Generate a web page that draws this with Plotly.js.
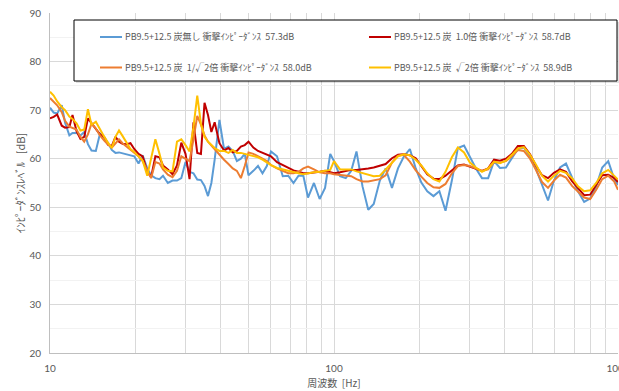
<!DOCTYPE html>
<html>
<head>
<meta charset="utf-8">
<script src="https://cdn.plot.ly/plotly-3.0.1.min.js"></script>
<style>
  html, body { margin: 0; padding: 0; background: #ffffff; }
  #chart { width: 619px; height: 391px; }
</style>
</head>
<body>
<div id="chart"></div>
<script>
// Frequency points [Hz]
const freqHz = [
  10, 10.3, 10.6, 11, 11.3, 11.7, 12, 12.4, 12.8, 13.2, 13.6, 14, 14.5, 15, 15.5, 16, 16.5, 17, 17.5, 18, 18.6, 19.2, 19.8,
  20.5, 21.2, 22, 22.7, 23.5, 24.3, 25, 26, 27, 28, 29, 30, 31, 32, 33, 34, 35, 36, 37, 38,
  39.5, 41, 42.5, 44, 45.5, 47, 48.5, 50,
  52, 54, 56, 58, 60, 63, 66, 69, 72, 75, 78, 81, 85, 89, 93, 97, 100,
  105, 110, 115, 120, 126, 132, 138, 145, 152, 160, 168, 176, 185, 194, 203, 213, 224, 235, 247, 260,
  273, 287, 301, 316, 332, 349, 366, 384, 403, 423, 444, 466, 490, 515, 540, 567, 595, 625, 656, 689,
  723, 760, 798, 838, 880, 924, 970, 1000
];

// Impedance level [dB] — PB9.5+12.5, no carbon
const levelNoCarbon = [
  70.5, 69.5, 69.3, 71, 67.4, 64.8, 65.3, 65.3, 64.8, 65.5, 63, 61.7, 61.6, 65.2, 64.5, 63.3, 61.8, 61.2, 61.3, 61.1, 60.9, 60.8, 60.5,
  59, 60.7, 58, 56.6, 56, 55.8, 56.5, 55, 55.5, 55.5, 56, 59.3, 57.3, 57, 55.7, 55.6, 54.4, 52.3, 55, 59.8,
  68, 62, 62.5, 61.6, 59.5, 60, 61, 56.6,
  57.5, 58.5, 57, 58.5, 61.5, 60.5, 56.4, 56.5, 55, 56.5, 56.5, 52, 55, 51.7, 54, 61, 59.5,
  56.4, 56, 57.5, 61.5, 54.3, 49.5, 50.7, 55.5, 58, 54, 58, 60.4, 62, 58, 55.1, 53.3, 52.3, 53.3, 49.3, 55.5,
  62.2, 62.7, 60.2, 58, 56, 56, 59.5, 58.1, 58.2, 60, 62, 62.3, 60.5, 57.8, 54.6, 51.4, 55.5, 58.2, 59, 56,
  53.3, 51.1, 51.8, 54.3, 58.2, 59.5, 55.8, 54.6
];

// Impedance level [dB] — carbon x1.0
const levelCarbon10 = [
  68.3, 68.6, 69.1, 66.8, 66.4, 66.5, 69, 65.7, 64.1, 64.5, 68.3, 67.3, 66.3, 65, 64.5, 62.9, 62.6, 64.5, 63.5, 63.1, 63, 63.2, 62,
  61, 60.5, 57.3, 56.2, 60.5, 60.3, 58.6, 57.8, 56.8, 58.6, 63.3, 61, 55.8, 67.5, 61.2, 61, 71.5, 69, 65.5, 67.5,
  63.2, 61.7, 62.2, 61.3, 61.6, 62.5, 62.8, 63.5,
  62.3, 61.6, 61.2, 60.8, 60.5, 59.3, 58.7, 58.2, 57.6, 57.3, 57, 57, 57.1, 57.3, 57.5, 57.3, 57,
  57.2, 57.5, 57.7, 57.7, 57.8, 58, 58.2, 58.5, 58.9, 60.1, 60.8, 60.9, 60.7, 60.1, 58.5, 56.8, 55.9, 55.8, 56.5, 57.5,
  58.6, 58.8, 58.4, 57.9, 57.5, 58, 59.8, 59.6, 60, 61, 62.6, 62.6, 60.9, 58.5, 56.6, 56, 57.1, 57.8, 57.3, 55.4,
  54, 52.5, 52.6, 54.7, 56.6, 56.7, 56, 55.2
];

// Impedance level [dB] — carbon x1/√2
const levelCarbonInvRt2 = [
  72.5, 71.8, 71, 69.6, 67.8, 66.6, 66.3, 66, 64.5, 63.5, 65, 67.2, 66.2, 64.8, 63.8, 62.9, 62.3, 63.2, 64, 63.2, 62.5, 62, 61.2,
  60.5, 59.5, 57.7, 56, 59.3, 59, 57.8, 56.7, 56.2, 57.5, 60.5, 60, 59.5, 64, 68.8, 67, 64.8, 63.5, 62.7, 62,
  60.9, 59.8, 58.9, 58, 57.5, 56, 58.5, 61.3,
  61, 60.4, 60, 59.5, 58.7, 58, 57.5, 57, 57, 57.3, 58, 58.4, 57.8, 57.2, 57, 57, 56.8,
  56.7, 56.6, 56.4, 55.8, 55.3, 55.3, 55.5, 55.8, 56.6, 59.2, 60.6, 60.8, 59.4, 57.6, 56.3, 55, 54.1, 54, 54.8, 57,
  58.5, 58.7, 58.5, 58, 57.5, 57.8, 59.3, 59.2, 59.5, 60.5, 61.8, 61.6, 60, 57.6, 55.2, 54, 55.5, 56.7, 56.1, 54.4,
  53.3, 52, 51.7, 53.6, 55.8, 56.5, 55.3, 53.6
];

// Impedance level [dB] — carbon x√2
const levelCarbonRt2 = [
  73.8, 73, 71.8, 70.6, 70, 68.7, 68.2, 67.3, 65.8, 66, 70.2, 67, 67.6, 66, 64.6, 63.3, 62.2, 64.5, 65.8, 64.7, 63.3, 62, 61.4,
  60.5, 59.6, 56.5, 60, 64, 61, 58.2, 57.5, 57.4, 63.5, 64, 62.8, 61.5, 66.5, 73, 67.2, 64.5, 63.5, 62.8, 62.2,
  61.6, 61.6, 61.2, 61.8, 61.2, 61.2, 61, 60.8,
  60.6, 60.3, 59.8, 59.2, 58.7, 58.1, 57.8, 57.4, 57.2, 57, 56.8, 57, 57.2, 57.3, 57.5, 57.7, 59.5,
  57.8, 57.8, 57.8, 57.4, 57, 56.7, 56.4, 56.5, 57.8, 59.3, 60.5, 60.9, 60.7, 59.8, 58.6, 57, 55.8, 55.3, 57.3, 60.3,
  62.3, 61.3, 59.2, 58.2, 57.3, 58, 59.4, 59.1, 59.6, 60.8, 62.1, 62.4, 60.8, 58.7, 56.5, 55.3, 56.5, 57.5, 57.1, 56,
  54.3, 53.3, 53.5, 55, 57, 57.7, 56.5, 55.7
];

const seriesNames = [
  'PB9.5+12.5 炭無し 衝撃ｲﾝﾋﾟｰﾀﾞﾝｽ\u00a0\u00a057.3dB',
  'PB9.5+12.5 炭\u00a0\u00a01.0倍 衝撃ｲﾝﾋﾟｰﾀﾞﾝｽ\u00a0\u00a058.7dB',
  'PB9.5+12.5 炭\u00a0\u00a01/√2倍 衝撃ｲﾝﾋﾟｰﾀﾞﾝｽ\u00a0\u00a058.0dB',
  'PB9.5+12.5 炭\u00a0\u00a0√2倍 衝撃ｲﾝﾋﾟｰﾀﾞﾝｽ\u00a0\u00a058.9dB'
];

const xTickVals = [10, 100, 1000];
const xTickText = ['10', '100', '1000'];
const xMinorVals = [20, 30, 40, 50, 60, 70, 80, 90, 200, 300, 400, 500, 600, 700, 800, 900];
const yTickVals = [20, 30, 40, 50, 60, 70, 80, 90];
const yMinorVals = [25, 35, 45, 55, 65, 75, 85];

const seriesColors = ['#5B9BD5', '#C00000', '#ED7D31', '#FFC000'];
const seriesData = [levelNoCarbon, levelCarbon10, levelCarbonInvRt2, levelCarbonRt2];

const traces = seriesData.map((vals, i) => ({
  x: freqHz,
  y: vals,
  type: 'scatter',
  mode: 'lines',
  name: seriesNames[i],
  line: { color: seriesColors[i], width: 2 },
  showlegend: false,
  hoverinfo: 'skip'
}));

// Plot area geometry (pixels) used to place the framed legend
const W = 619, H = 391;
const M = { l: 50, r: 1, t: 13, b: 38 };
const pw = W - M.l - M.r, ph = H - M.t - M.b;
const px = v => (v - M.l) / pw;
const py = v => (H - M.b - v) / ph;

const shapes = [
  // soft shadow under the legend frame
  { type: 'rect', xref: 'paper', yref: 'paper', x0: px(76), x1: px(619), y0: py(83), y1: py(22),
    line: { width: 0 }, fillcolor: 'rgba(0,0,0,0.12)', layer: 'above' },
  { type: 'rect', xref: 'paper', yref: 'paper', x0: px(74), x1: px(617), y0: py(81), y1: py(20),
    line: { color: '#000000', width: 1 }, fillcolor: '#ffffff', layer: 'above' }
];
const annotations = [];
const slots = [
  { x: 100, y: 37 }, { x: 369, y: 37 },
  { x: 100, y: 67.5 }, { x: 369, y: 67.5 }
];
slots.forEach((s, i) => {
  shapes.push({ type: 'line', xref: 'paper', yref: 'paper', x0: px(s.x), x1: px(s.x + 22), y0: py(s.y), y1: py(s.y),
    line: { color: seriesColors[i], width: 2 }, layer: 'above' });
  annotations.push({ xref: 'paper', yref: 'paper', x: px(s.x + 23), y: py(s.y), xanchor: 'left', yanchor: 'middle',
    text: seriesNames[i], showarrow: false,
    font: { family: 'Noto Sans CJK JP, sans-serif', size: 9, color: '#595959' } });
});

const tickFont = { family: 'Lato, Noto Sans CJK JP, sans-serif', size: 10, color: '#595959' };

const layout = {
  width: W, height: H,
  margin: M,
  paper_bgcolor: '#ffffff', plot_bgcolor: '#ffffff',
  showlegend: false,
  xaxis: {
    type: 'log', range: [1, 3],
    tickmode: 'array', tickvals: xTickVals, ticktext: xTickText,
    ticks: 'outside', ticklen: 6, tickcolor: 'rgba(0,0,0,0)',
    ticklabeloverflow: 'allow',
    tickfont: tickFont,
    showgrid: true, gridcolor: '#d9d9d9', gridwidth: 1,
    minor: { tickvals: xMinorVals, showgrid: true, gridcolor: '#d9d9d9', gridwidth: 1, ticks: '' },
    showline: true, linecolor: '#bfbfbf', linewidth: 1,
    zeroline: false,
    title: { text: '周波数\u00a0\u00a0[Hz]', standoff: 6,
      font: { family: 'Noto Sans CJK JP, sans-serif', size: 10, color: '#595959' } }
  },
  yaxis: {
    range: [20, 90],
    tickmode: 'array', tickvals: yTickVals,
    ticks: 'outside', ticklen: 6, tickcolor: 'rgba(0,0,0,0)',
    tickfont: tickFont,
    showgrid: true, gridcolor: '#d9d9d9', gridwidth: 1,
    minor: { tickvals: yMinorVals, showgrid: true, gridcolor: '#f2f2f2', gridwidth: 1, ticks: '' },
    showline: true, linecolor: '#bfbfbf', linewidth: 1,
    zeroline: false,
    title: { text: 'ｲﾝﾋﾟｰﾀﾞﾝｽﾚﾍﾞﾙ\u00a0\u00a0\u00a0[dB]', standoff: 1,
      font: { family: 'Noto Sans CJK JP, sans-serif', size: 11, color: '#595959' } }
  },
  shapes: shapes,
  annotations: annotations
};

Plotly.newPlot('chart', traces, layout, { staticPlot: true, displayModeBar: false });
</script>
</body>
</html>
